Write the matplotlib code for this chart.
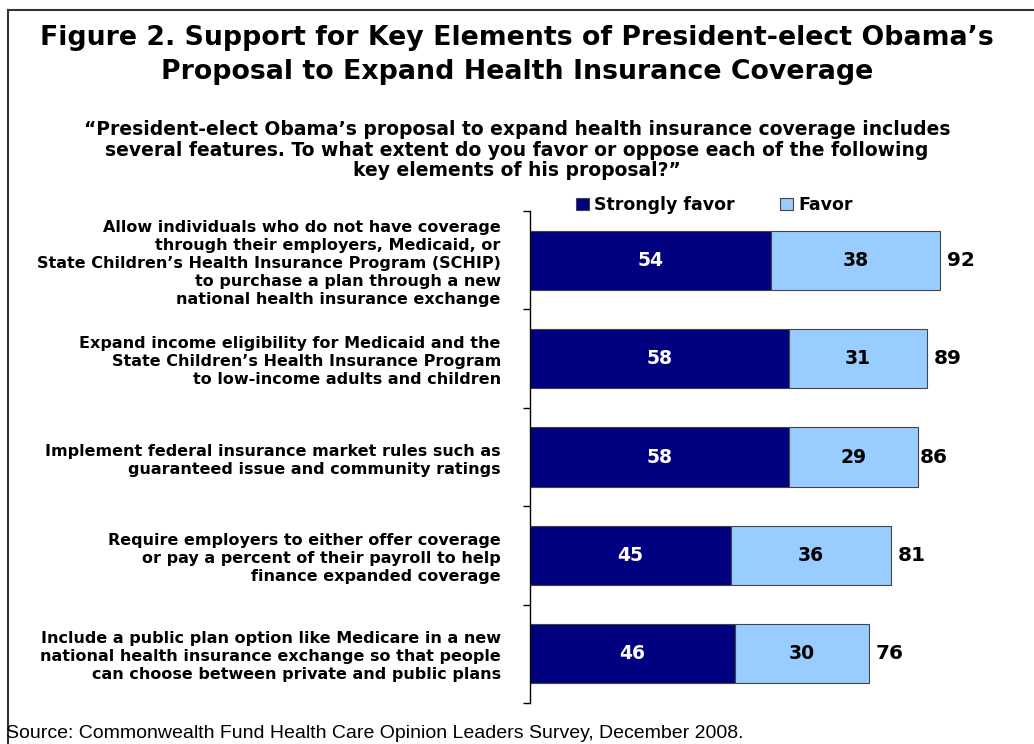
import matplotlib.pyplot as plt
import numpy as np

categories = [
    "Allow individuals who do not have coverage\nthrough their employers, Medicaid, or\nState Children\u2019s Health Insurance Program (SCHIP)\nto purchase a plan through a new\nnational health insurance exchange",
    "Expand income eligibility for Medicaid and the\nState Children\u2019s Health Insurance Program\nto low-income adults and children",
    "Implement federal insurance market rules such as\nguaranteed issue and community ratings",
    "Require employers to either offer coverage\nor pay a percent of their payroll to help\nfinance expanded coverage",
    "Include a public plan option like Medicare in a new\nnational health insurance exchange so that people\ncan choose between private and public plans",
]
strongly_favor = [54, 58, 58, 45, 46]
favor = [38, 31, 29, 36, 30]
totals = [92, 89, 86, 81, 76]

dark = '#000080'
light = '#99CCFF'

fig = plt.figure(figsize=(10.34, 7.44), dpi=100)
W, H = 1034, 744

# border (top and left visible)
fig.add_artist(plt.Line2D([8/W, 8/W], [0, 1 - 10/H], color='#333333', lw=1.5))
fig.add_artist(plt.Line2D([8/W, 1], [1 - 10/H, 1 - 10/H], color='#333333', lw=1.5))

fig.text(0.5, 1 - 38/H, "Figure 2. Support for Key Elements of President-elect Obama\u2019s",
         ha='center', va='center', fontsize=19.3, fontweight='bold', family='DejaVu Sans')
fig.text(0.5, 1 - 72/H, "Proposal to Expand Health Insurance Coverage",
         ha='center', va='center', fontsize=19.3, fontweight='bold', family='DejaVu Sans')
fig.text(0.5, 1 - 150/H,
         "\u201cPresident-elect Obama\u2019s proposal to expand health insurance coverage includes\n"
         "several features. To what extent do you favor or oppose each of the following\n"
         "key elements of his proposal?\u201d",
         ha='center', va='center', fontsize=13.5, fontweight='bold', linespacing=1.08)

ax = fig.add_axes([530/W, 1 - 703/H, 470/W, (703 - 211)/H])
y = np.arange(len(categories))
b1 = ax.barh(y, strongly_favor, height=0.6, color=dark, edgecolor='#444444', lw=0.8,
             label='Strongly favor')
b2 = ax.barh(y, favor, left=strongly_favor, height=0.6, color=light, edgecolor='#444444',
             lw=0.8, label='Favor')

for i in range(len(categories)):
    ax.text(strongly_favor[i] / 2, y[i], str(strongly_favor[i]), ha='center', va='center',
            color='white', fontsize=13.5, fontweight='bold')
    ax.text(strongly_favor[i] + favor[i] / 2, y[i], str(favor[i]), ha='center', va='center',
            color='black', fontsize=13.5, fontweight='bold')
    ax.text(totals[i] + 1.5, y[i], str(totals[i]), ha='left', va='center',
            color='black', fontsize=14.5, fontweight='bold')

ax.set_xlim(0, 470 / 4.457)
ax.set_ylim(len(categories) - 0.5, -0.5)
ax.set_yticks(np.arange(len(categories) + 1) - 0.5)
ax.set_yticklabels([])
ax.tick_params(axis='y', length=5, width=1, direction='out')
ax.set_yticks(y, minor=True)
ax.set_yticklabels(categories, minor=True, fontsize=11.5, fontweight='bold', linespacing=1.25)
ax.tick_params(axis='y', which='minor', length=0, pad=21)
ax.set_xticks([])
for s in ['top', 'right', 'bottom']:
    ax.spines[s].set_visible(False)
ax.spines['left'].set_linewidth(1)

leg = fig.legend(handles=[b1, b2], loc='center left', bbox_to_anchor=(576/W, 1 - 205/H),
                 ncol=2, frameon=False, fontsize=12.5, handlelength=0.75, handleheight=0.75,
                 handletextpad=0.3, columnspacing=2.6, borderaxespad=0, borderpad=0)
for t in leg.get_texts():
    t.set_fontweight('bold')

fig.text(6/W, 1 - 733/H, "Source: Commonwealth Fund Health Care Opinion Leaders Survey, December 2008.",
         ha='left', va='center', fontsize=14, family='Liberation Sans')

fig.savefig('out.png', dpi=100)
